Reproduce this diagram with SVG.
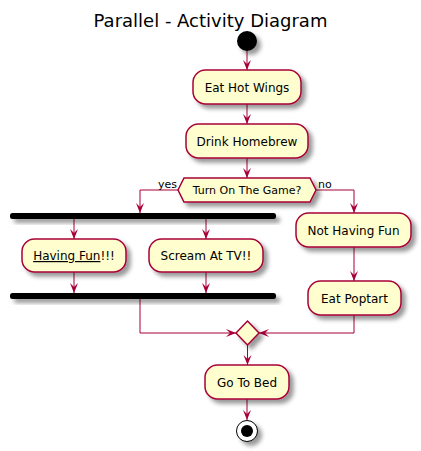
<svg xmlns="http://www.w3.org/2000/svg" width="421" height="451" viewBox="0 0 421 451">
<defs>
<filter id="sh" x="-1" y="-1" width="300%" height="300%">
<feGaussianBlur in="SourceAlpha" stdDeviation="2" result="b"/>
<feColorMatrix in="b" type="matrix" values="0 0 0 0 0 0 0 0 0 0 0 0 0 0 0 0 0 0 .4 0" result="b2"/>
<feOffset in="b2" dx="4" dy="4" result="b3"/>
<feBlend in="SourceGraphic" in2="b3" mode="normal"/>
</filter>
<marker id="ah" viewBox="-11 -5 12 10" refX="0" refY="0" markerWidth="12" markerHeight="10" markerUnits="userSpaceOnUse" orient="auto">
<path d="M0,0 L-10,-4 L-6,0 L-10,4 Z" fill="#A80036"/>
</marker>
</defs>
<style>
.box{fill:#FEFECE;stroke:#A80036;stroke-width:1.5;filter:url(#sh)}
.bar{fill:#000000;filter:url(#sh)}
.t{font-family:"DejaVu Sans","Liberation Sans",sans-serif;font-size:12px;fill:#000000;text-anchor:middle}
.s{font-family:"DejaVu Sans","Liberation Sans",sans-serif;font-size:11px;fill:#000000}
.c{fill:none;stroke:#A80036;stroke-width:1;marker-end:url(#ah)}
</style>
<text x="210.5" y="27" style="font-family:'DejaVu Sans','Liberation Sans',sans-serif;font-size:18px;text-anchor:middle;fill:#000">Parallel - Activity Diagram</text>
<g id="connectors">
<path class="c" d="M247,51 L247,70"/>
<path class="c" d="M247,104 L247,124"/>
<path class="c" d="M247,158 L247,178"/>
<path class="c" d="M178,190 L140,190 L140,213"/>
<path class="c" d="M316,190 L354,190 L354,213"/>
<path class="c" d="M74,219 L74,239"/>
<path class="c" d="M206,219 L206,239"/>
<path class="c" d="M74,272 L74,293"/>
<path class="c" d="M206,272 L206,293"/>
<path class="c" d="M354,247 L354,281"/>
<path class="c" d="M140,299 L140,333 L236,333"/>
<path class="c" d="M354,315 L354,333 L259,333"/>
<path class="c" d="M247.5,345 L247.5,365"/>
<path class="c" d="M247,399 L247,420"/>
<text class="s" x="158" y="188">yes</text>
<text class="s" x="318" y="188">no</text>
</g>
<g id="start"><circle cx="247" cy="41" r="10" fill="#000" filter="url(#sh)"/></g>
<g id="eat-hot-wings"><rect class="box" x="193" y="70" width="108" height="34" rx="12.5"/><text class="t" x="247" y="91.5">Eat Hot Wings</text></g>
<g id="drink-homebrew"><rect class="box" x="186" y="124" width="122" height="34" rx="12.5"/><text class="t" x="247" y="145.5">Drink Homebrew</text></g>
<g id="decision"><polygon class="box" points="184,178 310,178 316,190 310,202 184,202 178,190"/><text class="s" x="247" y="194" text-anchor="middle">Turn On The Game?</text></g>
<g id="fork"><rect class="bar" x="10" y="213" width="266" height="6" rx="2.5"/></g>
<g id="having-fun"><rect class="box" x="22" y="239" width="104" height="33" rx="12.5"/><text class="t" x="74" y="260"><tspan text-decoration="underline" style="text-decoration:underline">Having Fun</tspan>!!!</text></g>
<g id="scream"><rect class="box" x="149" y="239" width="114" height="33" rx="12.5"/><text class="t" x="206" y="260">Scream At TV!!</text></g>
<g id="join"><rect class="bar" x="10" y="293" width="266" height="6" rx="2.5"/></g>
<g id="not-having-fun"><rect class="box" x="296" y="213" width="115" height="34" rx="12.5"/><text class="t" x="353.5" y="234.5">Not Having Fun</text></g>
<g id="eat-poptart"><rect class="box" x="308" y="281" width="93" height="34" rx="12.5"/><text class="t" x="354.5" y="302.5">Eat Poptart</text></g>
<g id="merge"><polygon class="box" points="247.5,321 259,333 247.5,345 236,333"/></g>
<g id="go-to-bed"><rect class="box" x="205" y="365" width="84" height="34" rx="12.5"/><text class="t" x="247" y="386.5">Go To Bed</text></g>
<g id="end"><circle cx="247" cy="431" r="10.5" fill="#FFFFFF" stroke="#000" stroke-width="1" filter="url(#sh)"/><circle cx="247" cy="431" r="6" fill="#000"/></g>
</svg>
